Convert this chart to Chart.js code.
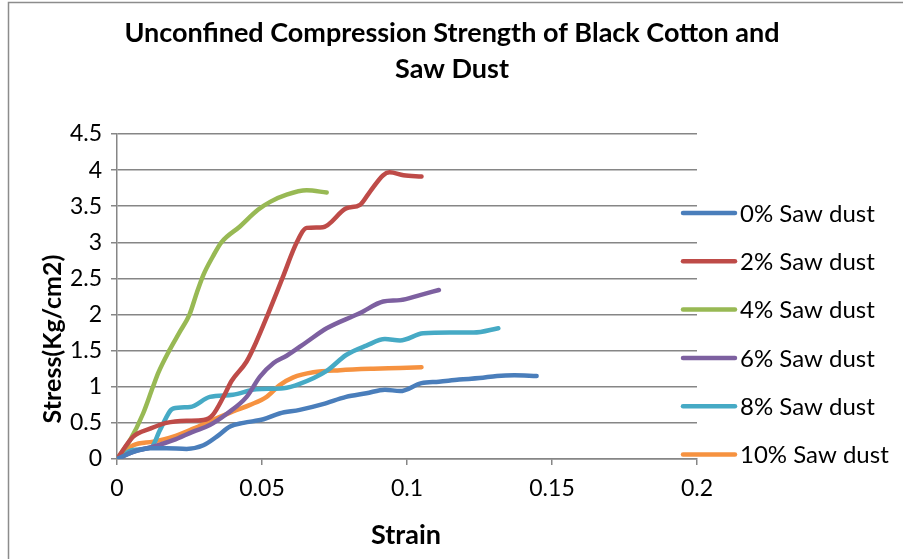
<!DOCTYPE html>
<html>
<head>
<meta charset="utf-8">
<script src="https://cdn.jsdelivr.net/npm/chart.js@4.4.1/dist/chart.umd.min.js"></script>
<style>
  html, body { margin: 0; padding: 0; background: #fff; }
  #wrap { width: 903px; height: 559px; position: relative; }
</style>
</head>
<body>
<div id="wrap"><canvas id="c" width="903" height="559"></canvas></div>
<script>
const titleLines = ["Unconfined Compression Strength of Black Cotton and", "Saw Dust"];
const xTitle = "Strain";
const yTitle = "Stress(Kg/cm2)";
const seriesLabels = ["0% Saw dust", "2% Saw dust", "4% Saw dust", "6% Saw dust", "8% Saw dust", "10% Saw dust"];
const seriesColors = ["#4A7EBB", "#BE4B48", "#98B954", "#7D60A0", "#46AAC5", "#F69240"];
const xTickLabels = ["0", "0.05", "0.1", "0.15", "0.2"];
const yTickLabels = ["0", "0.5", "1", "1.5", "2", "2.5", "3", "3.5", "4", "4.5"];

const strain0 = [0, 0.0056, 0.0114, 0.0171, 0.024, 0.0298, 0.0344, 0.039, 0.0436, 0.0505, 0.056, 0.063, 0.071, 0.079, 0.086, 0.0924, 0.0976, 0.105, 0.111, 0.118, 0.125, 0.131, 0.137, 0.1447];
const stress0 = [0, 0.10, 0.15, 0.15, 0.14, 0.19, 0.31, 0.45, 0.50, 0.55, 0.63, 0.68, 0.76, 0.86, 0.91, 0.96, 0.94, 1.05, 1.07, 1.10, 1.12, 1.15, 1.16, 1.15];

const strain2 = [0, 0.0056, 0.0114, 0.017, 0.024, 0.0298, 0.033, 0.0367, 0.0395, 0.0447, 0.048, 0.052, 0.057, 0.062, 0.0654, 0.071, 0.079, 0.0838, 0.0872, 0.0918, 0.094, 0.0988, 0.105];
const stress2 = [0, 0.31, 0.42, 0.50, 0.53, 0.54, 0.61, 0.86, 1.08, 1.35, 1.62, 2.00, 2.50, 3.00, 3.20, 3.21, 3.47, 3.52, 3.70, 3.93, 3.97, 3.93, 3.91];

const strain4 = [0, 0.0045, 0.009, 0.0124, 0.0143, 0.018, 0.0215, 0.025, 0.0275, 0.0298, 0.033, 0.036, 0.0424, 0.0486, 0.0528, 0.0585, 0.0654, 0.0723];
const stress4 = [0, 0.26, 0.63, 1.00, 1.20, 1.50, 1.75, 2.00, 2.30, 2.55, 2.80, 3.00, 3.22, 3.45, 3.56, 3.66, 3.72, 3.69];

const strain6 = [0, 0.0056, 0.0125, 0.0194, 0.0263, 0.032, 0.038, 0.0447, 0.0493, 0.054, 0.0585, 0.0654, 0.0723, 0.0815, 0.0838, 0.0918, 0.0976, 0.1045, 0.111];
const stress6 = [0, 0.10, 0.17, 0.26, 0.38, 0.47, 0.63, 0.86, 1.14, 1.33, 1.43, 1.62, 1.81, 1.98, 2.02, 2.18, 2.20, 2.27, 2.34];

const strain8 = [0, 0.0056, 0.012, 0.0148, 0.0194, 0.0252, 0.032, 0.040, 0.048, 0.0574, 0.063, 0.0723, 0.079, 0.086, 0.0924, 0.0976, 0.1056, 0.1148, 0.123, 0.1315];
const stress8 = [0, 0.125, 0.17, 0.40, 0.70, 0.72, 0.86, 0.89, 0.965, 0.98, 1.04, 1.22, 1.44, 1.57, 1.66, 1.64, 1.74, 1.75, 1.75, 1.81];

const strain10 = [0, 0.0056, 0.0125, 0.0194, 0.0263, 0.033, 0.040, 0.0459, 0.0516, 0.056, 0.0608, 0.0677, 0.0769, 0.0884, 0.0976, 0.105];
const stress10 = [0, 0.19, 0.24, 0.31, 0.42, 0.54, 0.66, 0.75, 0.86, 1.02, 1.13, 1.20, 1.23, 1.25, 1.26, 1.27];

const strains = [strain0, strain2, strain4, strain6, strain8, strain10];
const stresses = [stress0, stress2, stress4, stress6, stress8, stress10];

const FONT = "Lato, 'Open Sans', sans-serif";

const datasets = seriesLabels.map((lab, i) => ({
  label: lab,
  data: strains[i].map((x, j) => ({ x: x, y: stresses[i][j] })),
  borderColor: seriesColors[i],
  backgroundColor: seriesColors[i],
  borderWidth: 4.5,
  pointRadius: 0,
  pointHoverRadius: 0,
  fill: false,
  cubicInterpolationMode: 'monotone',
  borderCapStyle: 'round',
  borderJoinStyle: 'round'
}));

const extras = {
  id: 'extras',
  beforeDraw(chart) {
    const ctx = chart.ctx;
    ctx.save();
    ctx.strokeStyle = '#8c8c8c';
    ctx.lineWidth = 1.5;
    ctx.strokeRect(8.5, 2.5, 1200, 1200);
    ctx.restore();
  },
  afterDraw(chart) {
    const ctx = chart.ctx;
    ctx.save();
    ctx.fillStyle = '#000';
    ctx.textAlign = 'center';
    ctx.textBaseline = 'middle';
    // title
    ctx.font = "bold 27px " + FONT;
    ctx.fillText(titleLines[0], 452, 33);
    ctx.fillText(titleLines[1], 452, 69);
    // x title
    ctx.font = "bold 27px " + FONT;
    ctx.fillText(xTitle, 406, 535);
    // y title (rotated, overlapping ticks)
    ctx.font = "bold 25px " + FONT;
    ctx.save();
    ctx.translate(53, 339);
    ctx.rotate(-Math.PI / 2);
    ctx.fillText(yTitle, 0, 0);
    ctx.restore();
    // legend
    ctx.font = "24px " + FONT;
    ctx.textAlign = 'left';
    chart.data.datasets.forEach((ds, i) => {
      const y = 213 + i * 48.3;
      ctx.strokeStyle = ds.borderColor;
      ctx.lineWidth = 4.5;
      ctx.lineCap = 'round';
      ctx.beginPath();
      ctx.moveTo(683, y);
      ctx.lineTo(735, y);
      ctx.stroke();
      ctx.fillStyle = '#000';
      ctx.fillText(ds.label, 740, y + 1);
    });
    ctx.restore();
  }
};

new Chart(document.getElementById('c'), {
  type: 'line',
  data: { datasets: datasets },
  options: {
    responsive: false,
    animation: false,
    devicePixelRatio: 1,
    layout: { padding: { left: 0, right: 206, top: 134, bottom: 0 } },
    plugins: { legend: { display: false }, title: { display: false }, tooltip: { enabled: false } },
    scales: {
      x: {
        type: 'linear',
        min: 0, max: 0.2,
        afterFit(s) { s.height = 100; },
        afterBuildTicks(s) { s.ticks = xTickLabels.map(v => ({ value: parseFloat(v) })); },
        ticks: {
          callback: (v, i) => xTickLabels[i],
          font: { family: FONT, size: 23 },
          color: '#000',
          padding: 10,
          maxRotation: 0
        },
        grid: { drawOnChartArea: false, drawTicks: true, tickLength: 6, color: '#868686', lineWidth: 1.5 },
        border: { display: true, color: '#868686', width: 1.5 }
      },
      y: {
        min: 0, max: 4.5,
        afterFit(s) { s.width = 117; },
        afterBuildTicks(s) { s.ticks = yTickLabels.map(v => ({ value: parseFloat(v) })); },
        ticks: {
          callback: (v, i) => yTickLabels[i],
          font: { family: FONT, size: 23 },
          color: '#000',
          padding: 9
        },
        grid: { drawOnChartArea: true, drawTicks: true, tickLength: 6, color: '#868686', lineWidth: 1.5 },
        border: { display: true, color: '#868686', width: 1.5 }
      }
    }
  },
  plugins: [extras]
});
</script>
</body>
</html>
